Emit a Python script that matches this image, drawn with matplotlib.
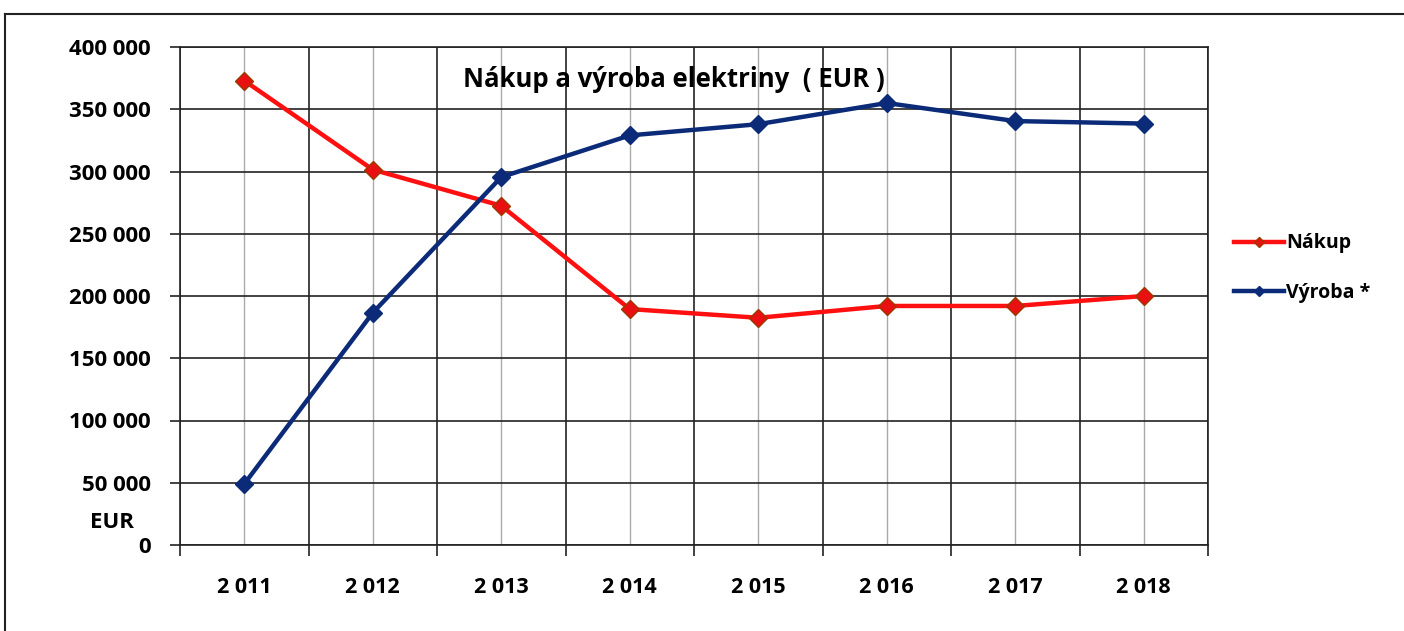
import numpy as np
import matplotlib.pyplot as plt
from matplotlib.lines import Line2D

years = ['2 011', '2 012', '2 013', '2 014', '2 015', '2 016', '2 017', '2 018']
nakup = [373000, 301500, 272500, 189500, 182500, 192000, 192000, 200000]
vyroba = [49000, 186500, 295500, 329000, 338000, 355000, 340500, 338500]
y_ticks = [0, 50000, 100000, 150000, 200000, 250000, 300000, 350000, 400000]
y_labels = ['0', '50 000', '100 000', '150 000', '200 000', '250 000',
            '300 000', '350 000', '400 000']

plt.rcParams['font.family'] = ['Open Sans', 'DejaVu Sans']
plt.rcParams['font.weight'] = 'bold'

fig = plt.figure(figsize=(14.04, 6.31), dpi=100)
ax = fig.add_axes([180 / 1404, 1 - 545 / 631, 1028 / 1404, 498 / 631])

x = np.arange(len(years))
ax.plot(x, nakup, color='#ff1010', lw=3.2, marker='D', ms=9,
        mfc='#e81010', mec='#9a3a00', mew=1.0, label='Nákup', zorder=3)
ax.plot(x, vyroba, color='#0b2a78', lw=3.2, marker='D', ms=9,
        mfc='#0b2a78', mec='#0b2a78', label='Výroba *', zorder=4)

ax.set_xlim(-0.5, len(years) - 0.5)
ax.set_ylim(0, 400000)

# dark grid at category boundaries, light grid at category centres
ax.set_xticks(np.arange(-0.5, len(years), 1.0))
ax.set_xticklabels([])
ax.set_xticks(x, minor=True)
ax.set_xticklabels(years, minor=True, fontsize=15.5, fontweight='bold')
ax.tick_params(axis='x', which='major', length=8, width=1.2, color='#222222',
               direction='out')
ax.tick_params(axis='x', which='minor', length=0, pad=23)
ax.grid(True, axis='x', which='major', color='#222222', lw=1.2)
ax.grid(True, axis='x', which='minor', color='#aaaaaa', lw=1.0)

ax.set_yticks(y_ticks)
ax.set_yticklabels(y_labels, fontsize=16, fontweight='bold')
ax.tick_params(axis='y', length=7, width=1.2, color='#222222', pad=14)
ax.grid(True, axis='y', color='#222222', lw=1.2)
ax.set_axisbelow(True)

for s in ax.spines.values():
    s.set_color('#222222')
    s.set_linewidth(1.2)

ax.text(0.48, 0.934, 'Nákup a výroba elektriny  ( EUR )', transform=ax.transAxes,
        ha='center', va='center', fontsize=18.5, fontweight='bold', zorder=5)
fig.text(112 / 1404, 1 - 522 / 631, 'EUR', ha='center', va='center',
         fontsize=16, fontweight='bold')

fig.legend(loc='center left', bbox_to_anchor=(1216 / 1404, 1 - 268 / 631),
           frameon=False, handlelength=2.6, handletextpad=0.1,
           labelspacing=1.5, markerscale=0.6,
           prop={'weight': 'bold', 'size': 14})

# outer frame of the chart area
fig.add_artist(Line2D([5 / 1404, 1.0], [1 - 14 / 631, 1 - 14 / 631],
                      transform=fig.transFigure, color='#222222', lw=1.5))
fig.add_artist(Line2D([5 / 1404, 5 / 1404], [0.0, 1 - 14 / 631],
                      transform=fig.transFigure, color='#222222', lw=1.5))

fig.savefig('out.png', dpi=100)
plt.close()
